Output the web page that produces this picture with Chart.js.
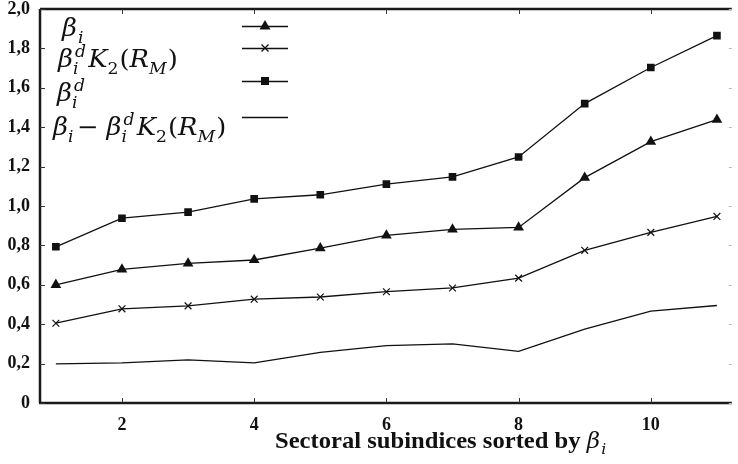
<!DOCTYPE html>
<html>
<head>
<meta charset="utf-8">
<script src="https://cdn.jsdelivr.net/npm/chart.js@4.4.1/dist/chart.umd.min.js"></script>
<style>
  html, body { margin: 0; padding: 0; background: #fff; }
  #wrap { width: 738px; height: 464px; }
</style>
</head>
<body>
<div id="wrap"><canvas id="chart" width="738" height="464"></canvas></div>
<script>
// Subindex rank (x) and the four series
const indices = [1, 2, 3, 4, 5, 6, 7, 8, 9, 10, 11];
const betaI    = [0.600, 0.678, 0.709, 0.726, 0.786, 0.851, 0.881, 0.891, 1.144, 1.327, 1.438];
const betaDK2  = [0.405, 0.478, 0.493, 0.527, 0.538, 0.565, 0.584, 0.634, 0.775, 0.866, 0.947];
const betaD    = [0.793, 0.938, 0.969, 1.036, 1.057, 1.111, 1.148, 1.249, 1.520, 1.703, 1.865];
const betaDiff = [0.199, 0.204, 0.219, 0.204, 0.257, 0.291, 0.300, 0.262, 0.375, 0.466, 0.495];

const xTicks = [2, 4, 6, 8, 10];
const yTicks = [0, 0.2, 0.4, 0.6, 0.8, 1.0, 1.2, 1.4, 1.6, 1.8, 2.0];

const INK = '#111';
const MATH_FONT = '"DejaVu Serif"';

// Helper to pair x with y values
function points(arr) {
  return indices.map((x, i) => ({ x: x, y: arr[i] }));
}

// Draw a small math expression: base glyphs, subscripts, superscripts
// sx stretches it horizontally a bit, the source figure is slightly wide
function drawMath(ctx, x, y, parts, size, sx) {
  ctx.save();
  ctx.translate(x, y);
  ctx.scale(sx || 1, 1);
  let cx = 0;
  ctx.textBaseline = 'alphabetic';
  ctx.textAlign = 'left';
  parts.forEach(p => {
    if (p.t !== undefined) {
      ctx.font = (p.up ? '' : 'italic ') + size + 'px ' + MATH_FONT;
      ctx.fillText(p.t, cx, 0);
      cx += ctx.measureText(p.t).width + (p.gap || 0);
    } else {
      const small = Math.round(size * 0.68);
      let w = 0;
      if (p.sub) {
        ctx.font = (p.subUp ? '' : 'italic ') + small + 'px ' + MATH_FONT;
        ctx.fillText(p.sub, cx + (p.subShift || 0), size * 0.28);
        w = Math.max(w, ctx.measureText(p.sub).width + (p.subShift || 0));
      }
      if (p.sup) {
        ctx.font = 'italic ' + small + 'px ' + MATH_FONT;
        ctx.fillText(p.sup, cx + 2, -size * 0.42);
        w = Math.max(w, ctx.measureText(p.sup).width + 2);
      }
      cx += w + (p.gap || 1);
    }
  });
  ctx.restore();
  return x + cx * (sx || 1);
}

// Marker shapes for the legend samples
function drawMarker(ctx, style, x, y) {
  ctx.fillStyle = INK;
  ctx.strokeStyle = INK;
  if (style === 'triangle') {
    ctx.beginPath();
    ctx.moveTo(x, y - 6);
    ctx.lineTo(x + 5.5, y + 3.5);
    ctx.lineTo(x - 5.5, y + 3.5);
    ctx.closePath();
    ctx.fill();
  } else if (style === 'rect') {
    ctx.fillRect(x - 4, y - 4, 8, 8);
  } else if (style === 'crossRot') {
    ctx.lineWidth = 1.3;
    ctx.beginPath();
    ctx.moveTo(x - 3.5, y - 3.5); ctx.lineTo(x + 3.5, y + 3.5);
    ctx.moveTo(x + 3.5, y - 3.5); ctx.lineTo(x - 3.5, y + 3.5);
    ctx.stroke();
  }
}

const legendRows = [
  { style: 'triangle', y: 26, lx: 62, base: 36,
    parts: [{ t: 'β' }, { sub: 'i', subShift: 1 }] },
  { style: 'crossRot', y: 48, lx: 58, base: 67,
    parts: [{ t: 'β' }, { sub: 'i', sup: 'd', gap: 2 }, { t: 'K' }, { sub: '2', subUp: true, gap: 1 },
            { t: '(', up: true }, { t: 'R' }, { sub: 'M' }, { t: ')', up: true }] },
  { style: 'rect', y: 81, lx: 57, base: 101,
    parts: [{ t: 'β' }, { sub: 'i', sup: 'd' }] },
  { style: null, y: 117, lx: 53, base: 135,
    parts: [{ t: 'β' }, { sub: 'i', gap: 3 }, { t: '− ', up: true }, { t: 'β' }, { sub: 'i', sup: 'd', gap: 2 },
            { t: 'K' }, { sub: '2', subUp: true, gap: 1 }, { t: '(', up: true }, { t: 'R' }, { sub: 'M' }, { t: ')', up: true }] }
];

// Frame, inward tick marks, legend and x axis title
const decorPlugin = {
  id: 'decor',
  afterDraw(chart) {
    const ctx = chart.ctx;
    const a = chart.chartArea;
    const xs = chart.scales.x, ys = chart.scales.y;
    ctx.save();

    // axes frame (left, bottom, top)
    ctx.strokeStyle = '#1a1a1a';
    ctx.lineWidth = 2.5;
    ctx.beginPath();
    ctx.moveTo(a.left, a.top); ctx.lineTo(a.right, a.top);
    ctx.moveTo(a.left, a.top); ctx.lineTo(a.left, a.bottom);
    ctx.moveTo(a.left - 1, a.bottom); ctx.lineTo(a.right, a.bottom);
    ctx.stroke();

    // inward ticks
    ctx.lineWidth = 1;
    ctx.strokeStyle = '#333';
    ctx.beginPath();
    xTicks.forEach(v => {
      const px = Math.round(xs.getPixelForValue(v)) + 0.5;
      ctx.moveTo(px, a.bottom); ctx.lineTo(px, a.bottom - 5);
      ctx.moveTo(px, a.top); ctx.lineTo(px, a.top + 5);
    });
    yTicks.forEach(v => {
      const py = Math.round(ys.getPixelForValue(v)) + 0.5;
      ctx.moveTo(a.left, py); ctx.lineTo(a.left + 5, py);
    });
    ctx.stroke();
    ctx.strokeStyle = '#bbb';
    ctx.beginPath();
    yTicks.forEach(v => {
      const py = Math.round(ys.getPixelForValue(v)) + 0.5;
      ctx.moveTo(a.right, py); ctx.lineTo(a.right - 3, py);
    });
    ctx.stroke();

    // legend
    ctx.fillStyle = INK;
    legendRows.forEach(r => {
      ctx.strokeStyle = INK;
      ctx.lineWidth = 1.3;
      ctx.beginPath();
      ctx.moveTo(242, r.y + 0.5); ctx.lineTo(288, r.y + 0.5);
      ctx.stroke();
      if (r.style) drawMarker(ctx, r.style, 265, r.y);
      ctx.fillStyle = INK;
      drawMath(ctx, r.lx, r.base, r.parts, 24, 1.075);
    });

    // x axis title
    ctx.fillStyle = INK;
    ctx.textBaseline = 'alphabetic';
    ctx.textAlign = 'left';
    const title = 'Sectoral subindices sorted by ';
    ctx.save();
    ctx.translate(275, 448);
    ctx.scale(1.07, 1);
    ctx.font = 'bold 23px "Liberation Serif"';
    ctx.fillText(title, 0, 0);
    const tw = ctx.measureText(title).width;
    ctx.restore();
    drawMath(ctx, 275 + tw * 1.07, 448, [{ t: 'β' }, { sub: 'i', subShift: 1 }], 22, 1.05);

    ctx.restore();
  }
};

const commonLine = {
  borderColor: INK,
  backgroundColor: INK,
  borderWidth: 1.3,
  pointBackgroundColor: INK,
  pointBorderColor: INK,
  tension: 0
};

const tickFont = { family: 'Liberation Serif', weight: 'bold', size: 18 };

new Chart(document.getElementById('chart'), {
  type: 'line',
  data: {
    datasets: [
      Object.assign({ label: 'βi', data: points(betaI), pointStyle: 'triangle', pointRadius: 6.2, pointBorderWidth: 0 }, commonLine),
      Object.assign({ label: 'βi^d K2(RM)', data: points(betaDK2), pointStyle: 'crossRot', pointRadius: 4.8, pointBorderWidth: 1.2 }, commonLine),
      Object.assign({ label: 'βi^d', data: points(betaD), pointStyle: 'rect', pointRadius: 5.4, pointBorderWidth: 0 }, commonLine),
      Object.assign({ label: 'βi - βi^d K2(RM)', data: points(betaDiff), pointRadius: 0 }, commonLine)
    ]
  },
  options: {
    responsive: false,
    animation: false,
    events: [],
    layout: { padding: { top: 9, right: 0, bottom: 0, left: 0 } },
    plugins: {
      legend: { display: false },
      tooltip: { enabled: false }
    },
    scales: {
      x: {
        type: 'linear',
        min: 0.76,
        max: 11.225,
        grid: { display: false, drawTicks: false },
        border: { display: false },
        afterBuildTicks: s => { s.ticks = xTicks.map(v => ({ value: v })); },
        afterFit: s => { s.height = 61; s.paddingLeft = 0; s.paddingRight = 0; },
        ticks: {
          padding: 12,
          color: INK,
          font: tickFont
        }
      },
      y: {
        min: 0,
        max: 2,
        grid: { display: false, drawTicks: false },
        border: { display: false },
        afterBuildTicks: s => { s.ticks = yTicks.map(v => ({ value: v })); },
        afterFit: s => { s.width = 40; s.paddingTop = 0; s.paddingBottom = 0; },
        ticks: {
          padding: 10,
          color: INK,
          font: tickFont,
          callback: v => v === 0 ? '0' : v.toFixed(1).replace('.', ',')
        }
      }
    }
  },
  plugins: [decorPlugin]
});
</script>
</body>
</html>
